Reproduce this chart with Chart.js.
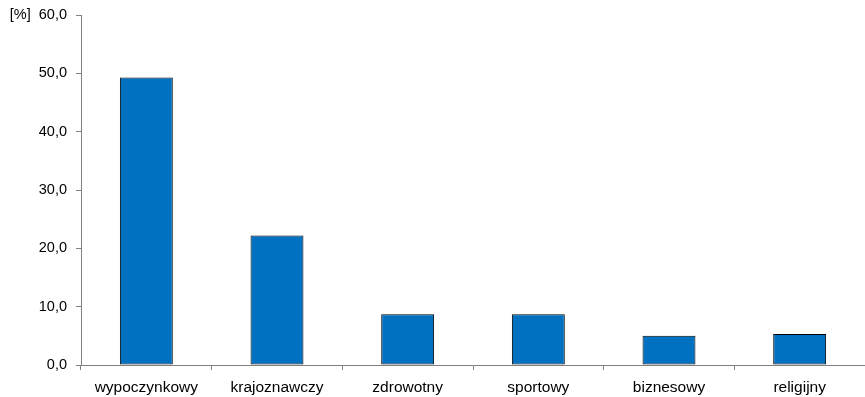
<!DOCTYPE html>
<html><head><meta charset="utf-8">
<script src="https://cdn.jsdelivr.net/npm/chart.js@4/dist/chart.umd.min.js"></script>
<style>html,body{margin:0;padding:0;background:#fff}#w{width:865px;height:397px}</style>
</head><body><div id="w"><canvas id="c" width="865" height="397"></canvas></div>
<script>
const categories = ['wypoczynkowy','krajoznawczy','zdrowotny','sportowy','biznesowy','religijny'];
const values = [49.3, 22.2, 8.7, 8.7, 5.0, 5.3];
const yTicks = [0,10,20,30,40,50,60];
const unitLabel = '[%]';

const fmt = v => v.toFixed(1).replace('.', ',');
const FAMILY = '"Liberation Sans", Arial, Helvetica, sans-serif';

new Chart(document.getElementById('c'), {
  type: 'bar',
  data: {labels: categories, datasets: [{data: values, backgroundColor: '#0070C0', borderColor: '#000', borderWidth: 1, borderSkipped: false, barPercentage: 0.405, categoryPercentage: 1}]},
  options: {
    responsive: false, animation: false,
    layout: {padding: {top: 15, right: 0, bottom: 0, left: 0}},
    plugins: {legend: {display: false}, tooltip: {enabled: false}},
    scales: {
      x: {
        offset: true,
        grid: {offset: true, drawOnChartArea: false, color: '#808080', tickLength: 5, lineWidth: 1},
        border: {color: '#808080', width: 1},
        ticks: {color: '#000', font: {family: FAMILY, size: 15.5}, padding: 8, maxRotation: 0},
        afterFit: s => { s.height = 32; s.paddingLeft = 0; s.paddingRight = 0; }
      },
      y: {
        min: 0, max: 60,
        afterBuildTicks: s => { s.ticks = yTicks.map(v => ({value: v})); },
        grid: {drawOnChartArea: false, color: '#808080', tickLength: 5},
        border: {color: '#808080', width: 1},
        ticks: {color: '#000', font: {family: FAMILY, size: 14.5}, padding: 9, callback: v => v === 60 ? unitLabel + '  ' + fmt(v) : fmt(v)},
        afterFit: s => { s.width = 81; s.paddingTop = 0; s.paddingBottom = 0; }
      }
    }
  }
});
</script></body></html>
